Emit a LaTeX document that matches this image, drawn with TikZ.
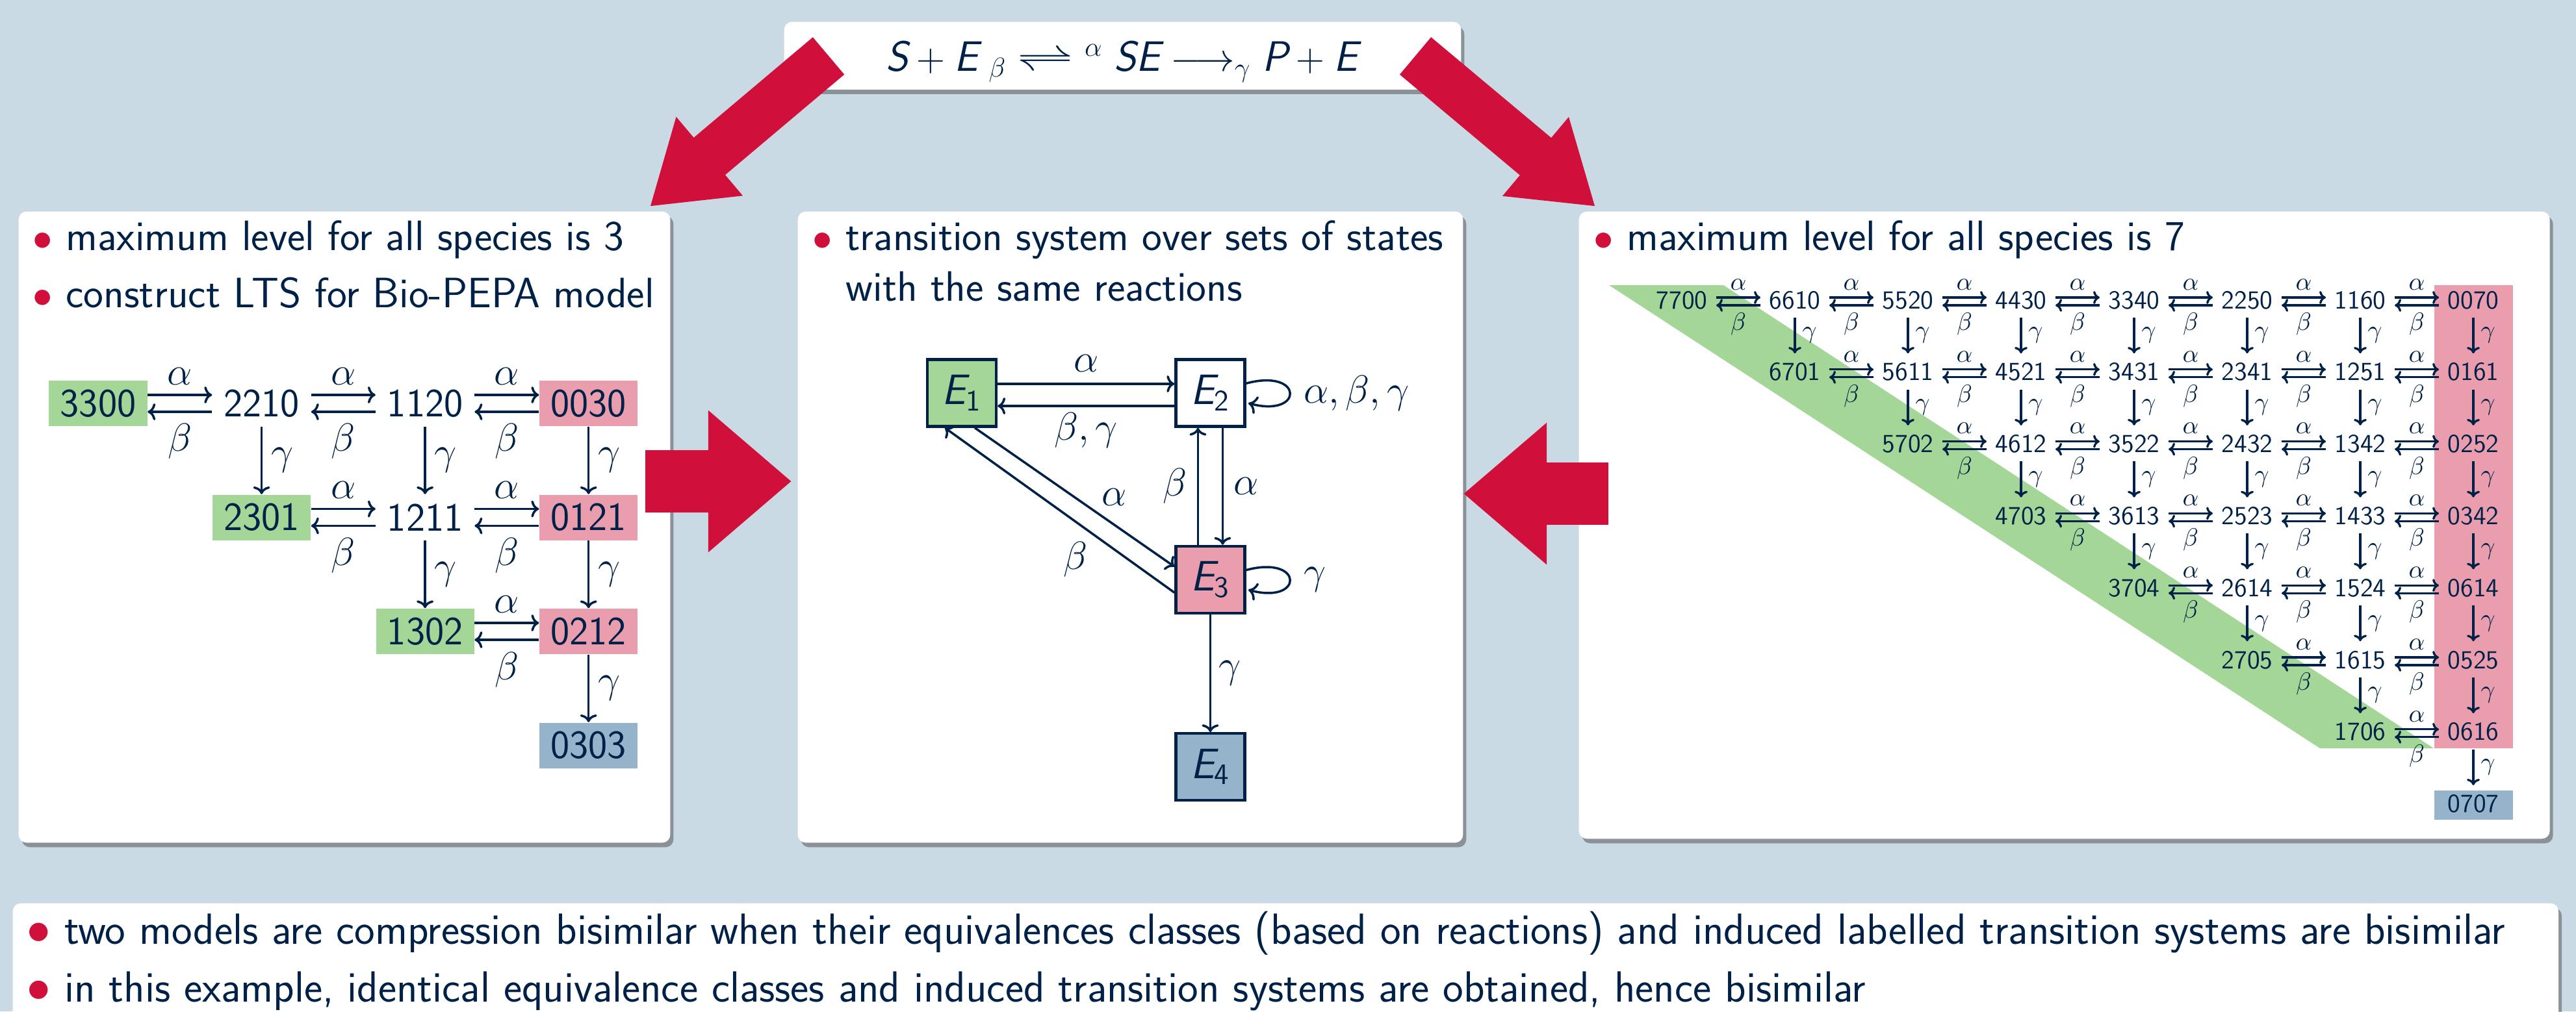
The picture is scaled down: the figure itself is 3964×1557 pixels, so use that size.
\documentclass[tikz,border=0pt]{standalone}
\usepackage{amsmath}
\usepackage{graphicx}
\usetikzlibrary{positioning, arrows.meta, shadows, calc}
\renewcommand{\familydefault}{\sfdefault}
\definecolor{bgColor}{RGB}{201, 218, 229}
\definecolor{navyColor}{RGB}{0, 33, 71}
\definecolor{redColor}{RGB}{208, 16, 58}
\definecolor{greenColor}{RGB}{163, 214, 151}
\definecolor{pinkColor}{RGB}{234, 157, 173}
\definecolor{steelColor}{RGB}{149, 180, 204}

\newcommand{\fuente}{\fontsize{18.6}{25}\selectfont}
\newcommand{\fuentenodo}{\fontsize{17.6}{22}\selectfont}
\newcommand{\fuentechica}{\fontsize{11.4}{14}\selectfont}
\newcommand{\fuentepie}{\fontsize{19.1}{25}\selectfont}
\newcommand{\punto}{\textcolor{redColor}{$\bullet$}\ }
\newcommand{\esp}[1]{\textsl{#1}}

\begin{document}
\begin{tikzpicture}[
    x=0.01cm, y=-0.01cm,
    every node/.style={text=navyColor},
    panel/.style={
        rectangle,
        rounded corners=0.12cm,
        fill=white,
        drop shadow={shadow xshift=0.05cm, shadow yshift=-0.07cm, fill=black!70, opacity=0.5},
        anchor=north west,
        inner sep=0
    },
    texto/.style={
        anchor=base west,
        inner sep=0,
        font=\fuente
    },
    estado/.style={
        rectangle,
        minimum width=1.51cm,
        minimum height=0.7cm,
        inner sep=0,
        font=\fuentenodo
    },
    verde/.style={estado, fill=greenColor},
    rosa/.style={estado, fill=pinkColor},
    azul/.style={estado, fill=steelColor},
    clase/.style={
        rectangle,
        draw=navyColor,
        line width=1.2pt,
        minimum width=1.06cm,
        minimum height=1.03cm,
        inner sep=0,
        font=\fuente
    },
    mini/.style={
        inner sep=0.13cm,
        text height=0.28cm,
        text depth=0cm,
        font=\fuentechica
    },
    etiqueta/.style={inner sep=0.05cm, font=\fuentenodo},
    minietq/.style={inner sep=0.1cm, font=\fuentechica},
    flecha/.style={
        -{To[length=0.12cm, width=0.26cm]},
        line width=0.035cm,
        draw=navyColor
    },
    miniflecha/.style={
        -{To[length=0.1cm, width=0.2cm]},
        line width=0.033cm,
        draw=navyColor
    },
    flechaRoja/.style={
        draw=redColor,
        line width=0.95cm,
        -{Triangle[length=1.28cm, width=2.1cm]}
    },
    flechaDiag/.style={
        draw=redColor,
        line width=0.75cm,
        -{Triangle[length=1.2cm, width=1.5cm]}
    }
]

\clip (0,0) rectangle (3964,1557);
\fill[bgColor] (0,0) rectangle (3964,1557);

% paneles
\node[panel, minimum width=10.41cm, minimum height=1.04cm] (reaccion) at (1206,33) {};
\node[panel, minimum width=10.02cm, minimum height=9.71cm] (izq) at (28,325) {};
\node[panel, minimum width=10.23cm, minimum height=9.71cm] (centro) at (1227,325) {};
\node[panel, minimum width=14.93cm, minimum height=9.65cm] (der) at (2429,325) {};
\node[panel, minimum width=39.15cm, minimum height=3cm] (abajo) at (19,1390) {};

\node[texto, anchor=base] (ecuacion) at (1726,109)
    {$\esp{S}+\esp{E}\;{}_{\beta}\mathrel{\scalebox{1.45}[1]{$\rightleftharpoons$}}{}^{\alpha}\;\esp{SE}\longrightarrow_{\gamma}\esp{P}+\esp{E}$};

% modelo con nivel maximo 3
\node[texto] (i1) at (50,385) {\punto maximum level for all species is 3};
\node[texto] (i2) at (50,473) {\punto construct LTS for Bio-PEPA model};

\node[verde] (e3300) at (151,621) {3300};
\node[estado, right=0.99cm of e3300] (e2210) {2210};
\node[estado, right=0.99cm of e2210] (e1120) {1120};
\node[rosa, right=0.99cm of e1120] (e0030) {0030};
\node[verde, below=1.04cm of e2210] (e2301) {2301};
\node[estado, right=0.99cm of e2301] (e1211) {1211};
\node[rosa, right=0.99cm of e1211] (e0121) {0121};
\node[verde, below=1.04cm of e1211] (e1302) {1302};
\node[rosa, right=0.99cm of e1302] (e0212) {0212};
\node[azul, below=1.04cm of e0212] (e0303) {0303};

\foreach \a/\b in {e3300/e2210, e2210/e1120, e1120/e0030, e2301/e1211, e1211/e0121, e1302/e0212}{
    \draw[flecha] ([yshift=0.13cm]\a.east) -- node[etiqueta, above=0.09cm] {$\alpha$} ([yshift=0.13cm]\b.west);
    \draw[flecha] ([yshift=-0.13cm]\b.west) -- node[etiqueta, below=0.12cm] {$\beta$} ([yshift=-0.13cm]\a.east);
}
\foreach \a/\b in {e2210/e2301, e1120/e1211, e0030/e0121, e1211/e1302, e0121/e0212, e0212/e0303}{
    \draw[flecha] (\a) -- node[etiqueta, right=0.08cm] {$\gamma$} (\b);
}

% sistema sobre clases
\node[texto] (m1) at (1250,385) {\punto transition system over sets of states};
\node[texto] (m2) at (1250,463) {\hphantom{\punto}with the same reactions};

\node[clase, fill=greenColor] (E1) at (1480,605) {$\esp{E}_{\text{1}}$};
\node[clase, fill=white, right=2.72cm of E1] (E2) {$\esp{E}_{\text{2}}$};
\node[clase, fill=pinkColor, below=1.8cm of E2] (E3) {$\esp{E}_{\text{3}}$};
\node[clase, fill=steelColor, below=1.81cm of E3] (E4) {$\esp{E}_{\text{4}}$};

\draw[flecha] ([yshift=0.14cm]E1.east) -- node[etiqueta, above=0.12cm] {$\alpha$} ([yshift=0.14cm]E2.west);
\draw[flecha] ([yshift=-0.2cm]E2.west) -- node[etiqueta, below=0.04cm] {$\beta,\gamma$} ([yshift=-0.2cm]E1.east);
\draw[flecha] (E2) edge[loop right] node[etiqueta, right=0.15cm] {$\alpha,\beta,\gamma$} ();
\draw[flecha] ([xshift=0.19cm]E2.south) -- node[etiqueta, right=0.1cm] {$\alpha$} ([xshift=0.19cm]E3.north);
\draw[flecha] ([xshift=-0.19cm]E3.north) -- node[etiqueta, left=0.1cm] {$\beta$} ([xshift=-0.19cm]E2.south);
\draw[flecha] ([xshift=0.2cm]E1.south) -- node[etiqueta, right=0.35cm] {$\alpha$} ([yshift=0.2cm]E3.west);
\draw[flecha] ([yshift=-0.2cm]E3.west) -- node[etiqueta, pos=0.35, below left=0.05cm] {$\beta$} ([xshift=-0.26cm]E1.south);
\draw[flecha] (E3) edge[loop right] node[etiqueta, right=0.15cm] {$\gamma$} ();
\draw[flecha] (E3) -- node[etiqueta, right=0.06cm] {$\gamma$} (E4);

% modelo con nivel maximo 7
\node[texto] (d1) at (2452,385) {\punto maximum level for all species is 7};

\fill[greenColor] (2476,439) -- (2652,439) -- (3745,1152) -- (3570,1152) -- cycle;
\fill[pinkColor] (3746,439) rectangle (3867,1152);
\fill[steelColor] (3746,1217) rectangle (3867,1262);

\foreach \r in {0,...,7}{
    \foreach \c in {\r,...,7}{
        \pgfmathtruncatemacro{\s}{7-\c}
        \pgfmathtruncatemacro{\e}{7-\c+\r}
        \pgfmathtruncatemacro{\k}{\c-\r}
        \edef\txt{\s\e\k\r}
        % estos dos se imprimen asi en la diapositiva
        \ifnum\r\c=37 \def\txt{0342}\fi
        \ifnum\r\c=47 \def\txt{0614}\fi
        \node[mini] (g\r\c) at (2588+174*\c, 461+110.8*\r) {\txt};
    }
}
\foreach \r in {0,...,6}{
    \foreach \c in {\r,...,6}{
        \pgfmathtruncatemacro{\n}{\c+1}
        \draw[miniflecha] ([yshift=0.03cm]g\r\c.east) -- node[minietq, above] {$\alpha$} ([yshift=0.03cm]g\r\n.west);
        \draw[miniflecha] ([yshift=-0.09cm]g\r\n.west) -- node[minietq, below] {$\beta$} ([yshift=-0.09cm]g\r\c.east);
    }
}
\foreach \r in {0,...,6}{
    \pgfmathtruncatemacro{\d}{\r+1}
    \foreach \c in {\d,...,7}{
        \draw[miniflecha] (g\r\c) -- node[minietq, right=0cm] {$\gamma$} (g\d\c);
    }
}

% flechas grandes
\coordinate (colaA) at (1275,86);
\coordinate (colaB) at (2178,86);
\coordinate (colaI) at (993,741);
\coordinate (colaD) at (2475,760);
\draw[flechaDiag] (colaA) -- ($(izq.north east)+(-32,-7)$);
\draw[flechaDiag] (colaB) -- ($(der.north west)+(26,-7)$);
\draw[flechaRoja, shorten >=0.09cm] (colaI) -- (colaI -| centro.west);
\draw[flechaRoja] (colaD) -- (colaD -| centro.east);

% conclusion
\node[texto, font=\fuentepie] (b1) at (41,1453) {\punto two models are compression bisimilar when their equivalences classes (based on reactions) and induced labelled transition systems are bisimilar};
\node[texto, font=\fuentepie] (b2) at (41,1542) {\punto in this example, identical equivalence classes and induced transition systems are obtained, hence bisimilar};

\end{tikzpicture}
\end{document}
